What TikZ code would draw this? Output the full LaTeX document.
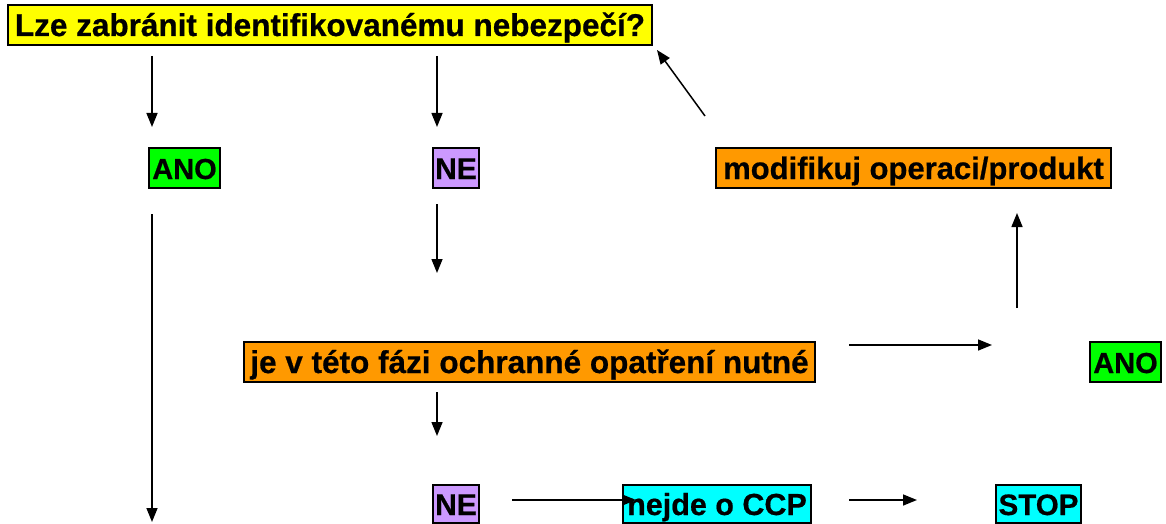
\documentclass[tikz,border=0pt]{standalone}
\usepackage{fontspec}
\setmainfont{Liberation Sans}[BoldFeatures={FakeBold=0.6}]
\usetikzlibrary{arrows.meta,calc}
\definecolor{qyellow}{HTML}{FFFF00}
\definecolor{qgreen}{HTML}{00FF00}
\definecolor{qpurple}{HTML}{CC99FF}
\definecolor{qorange}{HTML}{FF9900}
\definecolor{qcyan}{HTML}{00FFFF}
\tikzset{
  box/.style={draw=black, line width=2pt, anchor=north west, inner xsep=1pt, inner ysep=0pt,
    text height=31pt, text depth=9pt, font=\bfseries\fontsize{31}{31}\selectfont},
  arr/.style={line width=1.5pt, -{Triangle[length=14pt,width=11pt]}}
}
\begin{document}
\begin{tikzpicture}[x=1pt,y=-1pt]
\useasboundingbox (0,0) rectangle (1166,524);
% question and answers
\node[box, fill=qyellow, minimum width=644pt, font=\bfseries\fontsize{31.5}{31}\selectfont] (top) at (7,4) {Lze zabránit identifikovanému nebezpečí?};
\node[box, fill=qgreen, minimum width=71pt, font=\bfseries\fontsize{29}{29}\selectfont] (ano1) at (148,147) {ANO};
\node[box, fill=qpurple, minimum width=46pt, font=\bfseries\fontsize{30}{30}\selectfont] (ne1) at (432,147) {NE};
\node[box, fill=qorange, minimum width=395pt] (mod) at (715,147) {modifikuj operaci/produkt};
\node[box, fill=qorange, minimum width=571pt, font=\bfseries\fontsize{31.5}{31}\selectfont] (je) at (243,341) {je v této fázi ochranné opatření nutné};
\node[box, fill=qgreen, minimum width=71pt, font=\bfseries\fontsize{29}{29}\selectfont] (ano2) at (1089,341) {ANO};
\node[box, fill=qpurple, minimum width=46pt, text height=30pt, text depth=8pt, font=\bfseries\fontsize{30}{30}\selectfont] (ne2) at (432,484) {NE};
\node[box, fill=qcyan, minimum width=188pt, text height=30pt, text depth=8pt, font=\bfseries\fontsize{30.5}{30}\selectfont] (nejde) at (622,484) {nejde o CCP};
\node[box, fill=qcyan, minimum width=85pt, text height=30pt, text depth=8pt, font=\bfseries\fontsize{29.5}{29}\selectfont] (stop) at (995,484) {STOP};
% columns and rows the connectors follow
\coordinate (colA) at (152,0);
\coordinate (colB) at (437,0);
\coordinate (colC) at (1017,0);
\coordinate (rowJe) at (0,345);
\coordinate (rowLow) at (0,500);
\coordinate (loopStart) at (705,116);
\coordinate (loopEnd) at (657,50);
\coordinate (leftEnd) at (152,522);
\coordinate (rightEnd) at (992,345);
\coordinate (modFoot) at (1017,308);
% connectors
\draw[arr, shorten <=10pt, shorten >=20pt] (top.south -| colA) -- (ano1.north -| colA);
\draw[arr, shorten <=10pt, shorten >=20pt] (top.south -| colB) -- (ne1.north -| colB);
\draw[arr] (loopStart) -- (loopEnd);
\draw[arr, shorten <=15pt, shorten >=68pt] (ne1.south -| colB) -- (je.north -| colB);
\draw[arr, shorten <=25pt] (ano1.south -| colA) -- (leftEnd);
\draw[arr, shorten >=24pt] (modFoot) -- (mod.south -| colC);
\draw[arr, shorten <=33pt] (je.east |- rowJe) -- (rightEnd);
\draw[arr, shorten <=9pt, shorten >=48pt] (je.south -| colB) -- (ne2.north -| colB);
\draw[arr, shorten <=32pt, shorten >=-14pt] (ne2.east |- rowLow) -- (nejde.west |- rowLow);
\draw[arr, shorten <=37pt, shorten >=78pt] (nejde.east |- rowLow) -- (stop.west |- rowLow);
\end{tikzpicture}
\end{document}
